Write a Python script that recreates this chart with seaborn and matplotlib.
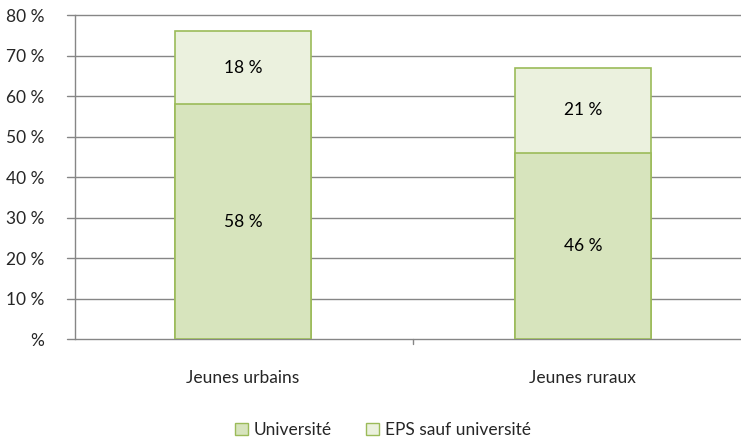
import matplotlib
matplotlib.use("Agg")
import matplotlib.pyplot as plt
import seaborn as sns
import pandas as pd
from matplotlib.patches import Patch

categories = ["Jeunes urbains", "Jeunes ruraux"]
universite = [58, 46]
eps_sauf_univ = [18, 21]
y_ticks = [0, 10, 20, 30, 40, 50, 60, 70, 80]
y_tick_labels = ["%"] + [f"{v} %" for v in y_ticks[1:]]

sns.set_theme(style="white")
plt.rcParams["font.family"] = ["Lato", "DejaVu Sans"]

edge = "#9BBB59"
col_univ = "#D7E4BD"
col_eps = "#EBF1DE"
fs = 12.5

df = pd.DataFrame({
    "cat": categories,
    "univ": universite,
    "eps": eps_sauf_univ,
})
df["total"] = df["univ"] + df["eps"]

fig = plt.figure(figsize=(7.41, 4.40), dpi=100)
ax = fig.add_axes([75 / 741, 1 - 339 / 440, 1 - 75 / 741, (339 - 15) / 440])

sns.barplot(data=df, x="cat", y="total", color=col_eps, edgecolor=edge,
            linewidth=1.2, width=0.40, saturation=1, ax=ax, zorder=3)
sns.barplot(data=df, x="cat", y="univ", color=col_univ, edgecolor=edge,
            linewidth=1.2, width=0.40, saturation=1, ax=ax, zorder=3)

for i, row in df.iterrows():
    ax.text(i, row["univ"] / 2, f"{row['univ']} %", ha="center", va="center",
            fontsize=fs, color="black", zorder=4)
    ax.text(i, row["univ"] + row["eps"] / 2, f"{row['eps']} %", ha="center",
            va="center", fontsize=fs, color="black", zorder=4)

ax.set_ylim(0, 80)
ax.set_xlim(-0.494, 1.465)
ax.set_yticks(y_ticks)
ax.set_yticklabels(y_tick_labels, fontsize=fs)
ax.set_xticks([0, 1])
ax.set_xticklabels(categories, fontsize=fs)
ax.tick_params(axis="x", length=0, pad=22)
ax.tick_params(axis="y", length=0, pad=22)
ax.set_xlabel("")
ax.set_ylabel("")

for v in y_ticks:
    ax.plot([-0.517, 1.465], [v, v], color="#868686", lw=1, zorder=1,
            clip_on=False)
ax.plot([0.5, 0.5], [0, -1.3], color="#868686", lw=1, clip_on=False)

for s in ["top", "right", "bottom"]:
    ax.spines[s].set_visible(False)
ax.spines["left"].set_color("#868686")
ax.spines["left"].set_linewidth(1)

handles = [Patch(facecolor=col_univ, edgecolor=edge, label="Université"),
           Patch(facecolor=col_eps, edgecolor=edge, label="EPS sauf université")]
fig.legend(handles=handles, loc="center", bbox_to_anchor=(383 / 741, 1 - 430 / 440),
           ncol=2, frameon=False, fontsize=fs, handlelength=0.75,
           handleheight=0.75, handletextpad=0.3, columnspacing=2.0)

fig.savefig("out.png", dpi=100)
